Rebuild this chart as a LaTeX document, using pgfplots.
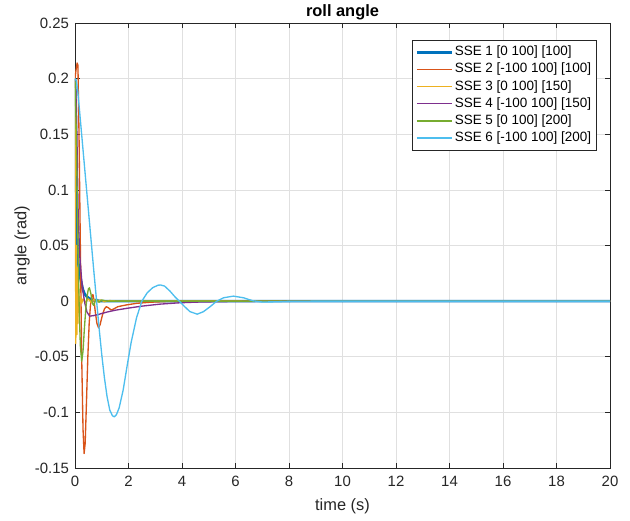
\documentclass[border=0pt]{standalone}
\usepackage{pgfplots}
\pgfplotsset{compat=1.18}
\usepackage{fontspec}
\setmainfont{Liberation Sans}
\definecolor{c1}{rgb}{0,0.447,0.741}
\definecolor{c2}{rgb}{0.85,0.325,0.098}
\definecolor{c3}{rgb}{0.929,0.694,0.125}
\definecolor{c4}{rgb}{0.494,0.184,0.556}
\definecolor{c5}{rgb}{0.466,0.674,0.188}
\definecolor{c6}{rgb}{0.301,0.745,0.933}
\definecolor{axgray}{rgb}{0.15,0.15,0.15}
\begin{document}
\begin{tikzpicture}
\useasboundingbox (-56.25pt,-39pt) rectangle (416.25pt,351pt);
\begin{axis}[
  scale only axis,
  width=401.25pt, height=333.75pt,
  xmin=0, xmax=20, ymin=-0.15, ymax=0.25,
  xtick={0,2,...,20},
  ytick={-0.15,-0.1,-0.05,0,0.05,0.1,0.15,0.2,0.25},
  yticklabels={-0.15,-0.1,-0.05,0,0.05,0.1,0.15,0.2,0.25},
  /pgf/number format/assume math mode=true,
  tick align=inside, tick pos=both,
  major tick length=4pt,
  grid=major,
  major grid style={black!12, line width=0.5pt},
  axis line style={axgray, line width=0.5pt},
  every tick/.style={axgray, line width=0.5pt},
  tick label style={font=\fontsize{11.2}{13}\selectfont, text=axgray},
  xticklabel style={yshift=-2.5pt},
  yticklabel style={xshift=-1pt},
  xlabel={time (s)}, ylabel={angle (rad)},
  label style={font=\fontsize{12.3}{14}\selectfont, text=axgray},
  xlabel style={yshift=-2pt},
  ylabel style={yshift=-3pt},
  title={\textbf{roll angle}},
  title style={font=\fontsize{12.3}{14}\selectfont, yshift=-7.5pt},
  legend cell align=left,
  legend style={at={(rel axis cs:0.9757,0.9618)}, anchor=north east,
    draw=axgray, line width=0.5pt, fill=white,
    font=\fontsize{10.1}{12}\selectfont,
    nodes={inner sep=1.4pt, text height=7.5pt, text depth=2.5pt},
    row sep=0pt, inner sep=2.8pt},
  legend image code/.code={\draw[#1] (0pt,0pt) -- (26pt,0pt);},
  every axis plot/.append style={line join=round},
]
% SSE 1
\addplot[c1, line width=2pt] coordinates {
(0,0.2) (0.02,0.17) (0.04,0.12) (0.06,0.075) (0.09,0.048) (0.12,0.035) (0.16,0.027)
(0.2,0.021) (0.25,0.015) (0.3,0.01) (0.35,0.007) (0.4,0.005) (0.5,0.003) (0.6,0.0015)
(0.8,0.0005) (1,0) (20,0)};
% SSE 2
\addplot[c2, line width=1pt] coordinates {
(0,0.2) (0.04,0.208) (0.08,0.214) (0.11,0.212) (0.15,0.15) (0.2,0.05) (0.25,-0.05)
(0.3,-0.115) (0.34,-0.137) (0.38,-0.128) (0.43,-0.09) (0.48,-0.05) (0.53,-0.02)
(0.58,-0.003) (0.63,0.004) (0.67,0.006) (0.71,0.001) (0.76,-0.01) (0.82,-0.02)
(0.88,-0.024) (0.94,-0.021) (1.02,-0.013) (1.1,-0.007) (1.17,-0.005) (1.25,-0.006)
(1.35,-0.008) (1.45,-0.007) (1.6,-0.005) (1.9,-0.0035) (2.3,-0.002) (2.8,-0.001)
(3.5,-0.0003) (5,0) (20,0)};
% SSE 3
\addplot[c3, line width=1pt] coordinates {
(0,0.2) (0.015,0.1) (0.03,-0.038) (0.05,0.05) (0.07,-0.03) (0.09,0.03) (0.11,-0.02)
(0.13,0.015) (0.16,-0.008) (0.2,0.004) (0.25,-0.002) (0.3,0.002) (0.4,-0.001)
(0.5,0.002) (0.6,-0.001) (0.7,0.0015) (0.8,-0.001) (0.95,0.001) (1.1,-0.0005)
(1.3,0.0005) (1.6,0) (20,0)};
% SSE 4
\addplot[c4, line width=1pt] coordinates {
(0,0.2) (0.03,0.19) (0.06,0.166) (0.09,0.12) (0.12,0.076) (0.18,0.04) (0.25,0.019)
(0.32,0.005) (0.37,-0.002) (0.45,-0.01) (0.55,-0.0135) (0.7,-0.013) (0.9,-0.0118)
(1.2,-0.0098) (1.5,-0.0082) (1.93,-0.0065) (2.5,-0.0045) (3.18,-0.0027)
(3.9,-0.0015) (4.67,-0.0008) (6,-0.0003) (8,0) (20,0)};
% SSE 5
\addplot[c5, line width=1pt] coordinates {
(0,0.2) (0.04,0.16) (0.08,0.1) (0.12,0.04) (0.16,-0.01) (0.2,-0.04) (0.25,-0.054)
(0.3,-0.045) (0.35,-0.025) (0.4,-0.008) (0.45,0.004) (0.5,0.011) (0.54,0.012)
(0.6,0.006) (0.65,-0.002) (0.7,-0.004) (0.75,0) (0.8,0.002) (0.9,-0.001)
(1.0,0.001) (1.2,0) (20,0)};
% SSE 6
\addplot[c6, line width=1pt] coordinates {
(0,0.2) (0.05,0.198) (0.1,0.19) (0.2,0.163) (0.3,0.136) (0.4,0.109) (0.5,0.082)
(0.6,0.055) (0.7,0.028) (0.8,0.002) (0.9,-0.024) (1.0,-0.048) (1.1,-0.069)
(1.2,-0.086) (1.3,-0.098) (1.4,-0.103) (1.47,-0.104) (1.55,-0.102) (1.65,-0.096)
(1.8,-0.08) (1.95,-0.058) (2.1,-0.037) (2.3,-0.015) (2.5,0) (2.7,0.0075)
(2.9,0.012) (3.1,0.0143) (3.2,0.0145) (3.35,0.0135) (3.55,0.009) (3.75,0.0035)
(3.9,0) (4.1,-0.005) (4.3,-0.0095) (4.57,-0.0117) (4.8,-0.0095) (5.05,-0.005)
(5.3,0) (5.55,0.003) (5.92,0.0045) (6.3,0.003) (6.65,0.0003) (7.0,-0.0008)
(7.5,-0.0006) (8,-0.0002) (9,0) (20,0)};
\legend{SSE 1 [0 100] [100], SSE 2 [-100 100] [100], SSE 3 [0 100] [150],
  SSE 4 [-100 100] [150], SSE 5 [0 100] [200], SSE 6 [-100 100] [200]}
\end{axis}
\end{tikzpicture}
\end{document}
